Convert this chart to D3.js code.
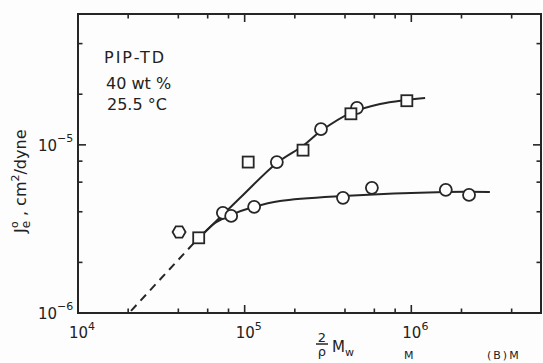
<!DOCTYPE html>
<html>
<head>
<meta charset="utf-8">
<script src="https://cdn.jsdelivr.net/npm/d3@7"></script>
<style>
body { margin: 0; background: #fdfdfd; }
text { font-family: "DejaVu Sans", sans-serif; fill: #222; }
</style>
</head>
<body>
<div id="chart"></div>
<script>
'use strict';
// values: x = (2/rho) Mw, y = Je0 (cm^2/dyne)
const circleM = [7.4e4, 8.3e4, 1.14e5, 1.56e5, 2.87e5, 4.72e5, 3.89e5, 5.8e5, 1.61e6, 2.22e6];
const circleJ = [3.94e-6, 3.78e-6, 4.28e-6, 7.9e-6, 1.24e-5, 1.66e-5, 4.84e-6, 5.55e-6, 5.4e-6, 5.04e-6];
const squareM = [5.3e4, 1.05e5, 2.24e5, 4.34e5, 9.4e5];
const squareJ = [2.8e-6, 7.9e-6, 9.3e-6, 1.53e-5, 1.83e-5];
const hexM = [4.04e4];
const hexJ = [3.03e-6];

// smooth curves drawn through the data by hand
const upperM = [5.17e4, 9.4e4, 1.56e5, 2.24e5, 2.87e5, 4.34e5, 6.5e5, 9.4e5, 1.21e6];
const upperJ = [2.72e-6, 4.84e-6, 7.8e-6, 9.87e-6, 1.21e-5, 1.55e-5, 1.75e-5, 1.85e-5, 1.9e-5];
const lowerM = [5.32e4, 6.64e4, 8.28e4, 1.14e5, 1.63e5, 3.89e5, 1.61e6, 2.96e6];
const lowerJ = [2.79e-6, 3.43e-6, 3.83e-6, 4.28e-6, 4.64e-6, 4.97e-6, 5.25e-6, 5.25e-6];
const dashM = [2.08e4, 5.3e4];
const dashJ = [1.03e-6, 2.8e-6];

const xMajor = [1e4, 1e5, 1e6];
const xMinor = [2e4, 4e4, 6e4, 8e4, 2e5, 4e5, 6e5, 8e5, 2e6, 4e6];
const yMajor = [1e-6, 1e-5];
const yMinor = [2e-6, 4e-6, 6e-6, 8e-6, 2e-5, 4e-5];
const xTickLabels = ['4', '5', '6'];
const yTickLabels = ['\u22126', '\u22125'];

((d3) => {
    const width = 543;
    const height = 363;
    const ink = '#262626';

    const x = d3.scaleLog().domain([1e4, 6e6]).range([78, 541]);
    const y = d3.scaleLog().domain([1e-6, 6e-5]).range([313, 14]);

    const svg = d3.select('#chart')
        .append('svg')
        .attr('width', width)
        .attr('height', height);

//frame
    svg.append('rect')
        .attr('x', x.range()[0])
        .attr('y', y.range()[1])
        .attr('width', x.range()[1] - x.range()[0])
        .attr('height', y.range()[0] - y.range()[1])
        .attr('fill', 'none')
        .attr('stroke', ink)
        .attr('stroke-width', 2);

//inward ticks on all four sides
    const ticks = svg.append('g').attr('stroke', ink).attr('stroke-width', 1.6);
    const xt = xMajor.map(v => ({ v, len: 8 })).concat(xMinor.map(v => ({ v, len: 4.5 })));
    const yt = yMajor.map(v => ({ v, len: 8 })).concat(yMinor.map(v => ({ v, len: 4.5 })));
    [[y.range()[0], -1], [y.range()[1], 1]].forEach(([y0, dir]) => {
        ticks.selectAll(null).data(xt).enter().append('line')
            .attr('x1', d => x(d.v)).attr('x2', d => x(d.v))
            .attr('y1', y0).attr('y2', d => y0 + dir * d.len);
    });
    [[x.range()[0], 1], [x.range()[1], -1]].forEach(([x0, dir]) => {
        ticks.selectAll(null).data(yt).enter().append('line')
            .attr('y1', d => y(d.v)).attr('y2', d => y(d.v))
            .attr('x1', x0).attr('x2', d => x0 + dir * d.len);
    });

//tick labels
    const xl = svg.selectAll('.xlab').data(xMajor).enter().append('text')
        .attr('class', 'xlab')
        .attr('x', d => x(d) - 9)
        .attr('y', 338)
        .style('font-size', '15px');
    xl.append('tspan').text('10');
    xl.append('tspan').attr('dy', -8).style('font-size', '11px').text((d, i) => xTickLabels[i]);

    const yl = svg.selectAll('.ylab').data(yMajor).enter().append('text')
        .attr('class', 'ylab')
        .attr('x', 38)
        .attr('y', d => y(d) + 6)
        .style('font-size', '15px');
    yl.append('tspan').text('10');
    yl.append('tspan').attr('dy', -9).style('font-size', '11px').text((d, i) => yTickLabels[i]);

//curves
    const line = d3.line()
        .x(d => x(d[0]))
        .y(d => y(d[1]))
        .curve(d3.curveCatmullRom.alpha(0.5));
    const curves = svg.append('g').attr('fill', 'none').attr('stroke', ink).attr('stroke-width', 2);
    curves.append('path').attr('d', line(d3.zip(upperM, upperJ)));
    curves.append('path').attr('d', line(d3.zip(lowerM, lowerJ)));
    curves.append('path').attr('d', line(d3.zip(dashM, dashJ))).attr('stroke-dasharray', '8,6');

//markers
    const marks = svg.append('g').attr('fill', '#fdfdfd').attr('stroke', ink).attr('stroke-width', 1.8);
    marks.selectAll('circle').data(d3.zip(circleM, circleJ)).enter().append('circle')
        .attr('cx', d => x(d[0])).attr('cy', d => y(d[1])).attr('r', 6);
    marks.selectAll('rect').data(d3.zip(squareM, squareJ)).enter().append('rect')
        .attr('x', d => x(d[0]) - 5.5).attr('y', d => y(d[1]) - 5.5)
        .attr('width', 11).attr('height', 11);
    const hex = d3.range(6).map(k => [6.5 * Math.cos(k * Math.PI / 3), 6.5 * Math.sin(k * Math.PI / 3)]);
    marks.selectAll('.hex').data(d3.zip(hexM, hexJ)).enter().append('path')
        .attr('class', 'hex')
        .attr('d', 'M' + hex.join('L') + 'Z')
        .attr('transform', d => 'translate(' + x(d[0]) + ',' + y(d[1]) + ')');

//annotation
    const note = svg.append('g').style('font-size', '16px');
    note.append('text').attr('x', 104).attr('y', 63).style('letter-spacing', '2px').text('PIP-TD');
    note.append('text').attr('x', 106).attr('y', 89).text('40 wt %');
    note.append('text').attr('x', 107).attr('y', 110).text('25.5 \u00b0C');

//y axis title
    const yt2 = svg.append('text')
        .attr('transform', 'translate(26,233) rotate(-90)')
        .style('font-size', '16px');
    yt2.append('tspan').text('J');
    yt2.append('tspan').attr('dy', 4).style('font-size', '12px').text('e');
    yt2.append('tspan').attr('dx', -7).attr('dy', -12).style('font-size', '11px').text('o');
    yt2.append('tspan').attr('dy', 8).text(' ,  cm');
    yt2.append('tspan').attr('dy', -7).style('font-size', '11px').text('2');
    yt2.append('tspan').attr('dy', 7).text('/dyne');

//x axis title
    svg.append('text').attr('x', 322).attr('y', 342).attr('text-anchor', 'middle')
        .style('font-size', '13px').text('2');
    svg.append('line').attr('x1', 316).attr('x2', 328).attr('y1', 344).attr('y2', 344)
        .attr('stroke', ink).attr('stroke-width', 1.5);
    svg.append('text').attr('x', 322).attr('y', 356).attr('text-anchor', 'middle')
        .style('font-size', '13px').text('\u03c1');
    const xt2 = svg.append('text').attr('x', 332).attr('y', 352).style('font-size', '15px');
    xt2.append('tspan').text('M');
    xt2.append('tspan').attr('dy', 4).style('font-size', '11px').text('w');

//start of the caption line below the figure
    svg.append('text').attr('x', 404).attr('y', 359).style('font-size', '11px').text('M');
    svg.append('text').attr('x', 487).attr('y', 359).style('font-size', '11px').style('letter-spacing', '2px').text('(B)M');

})(window.d3);
</script>
</body>
</html>
